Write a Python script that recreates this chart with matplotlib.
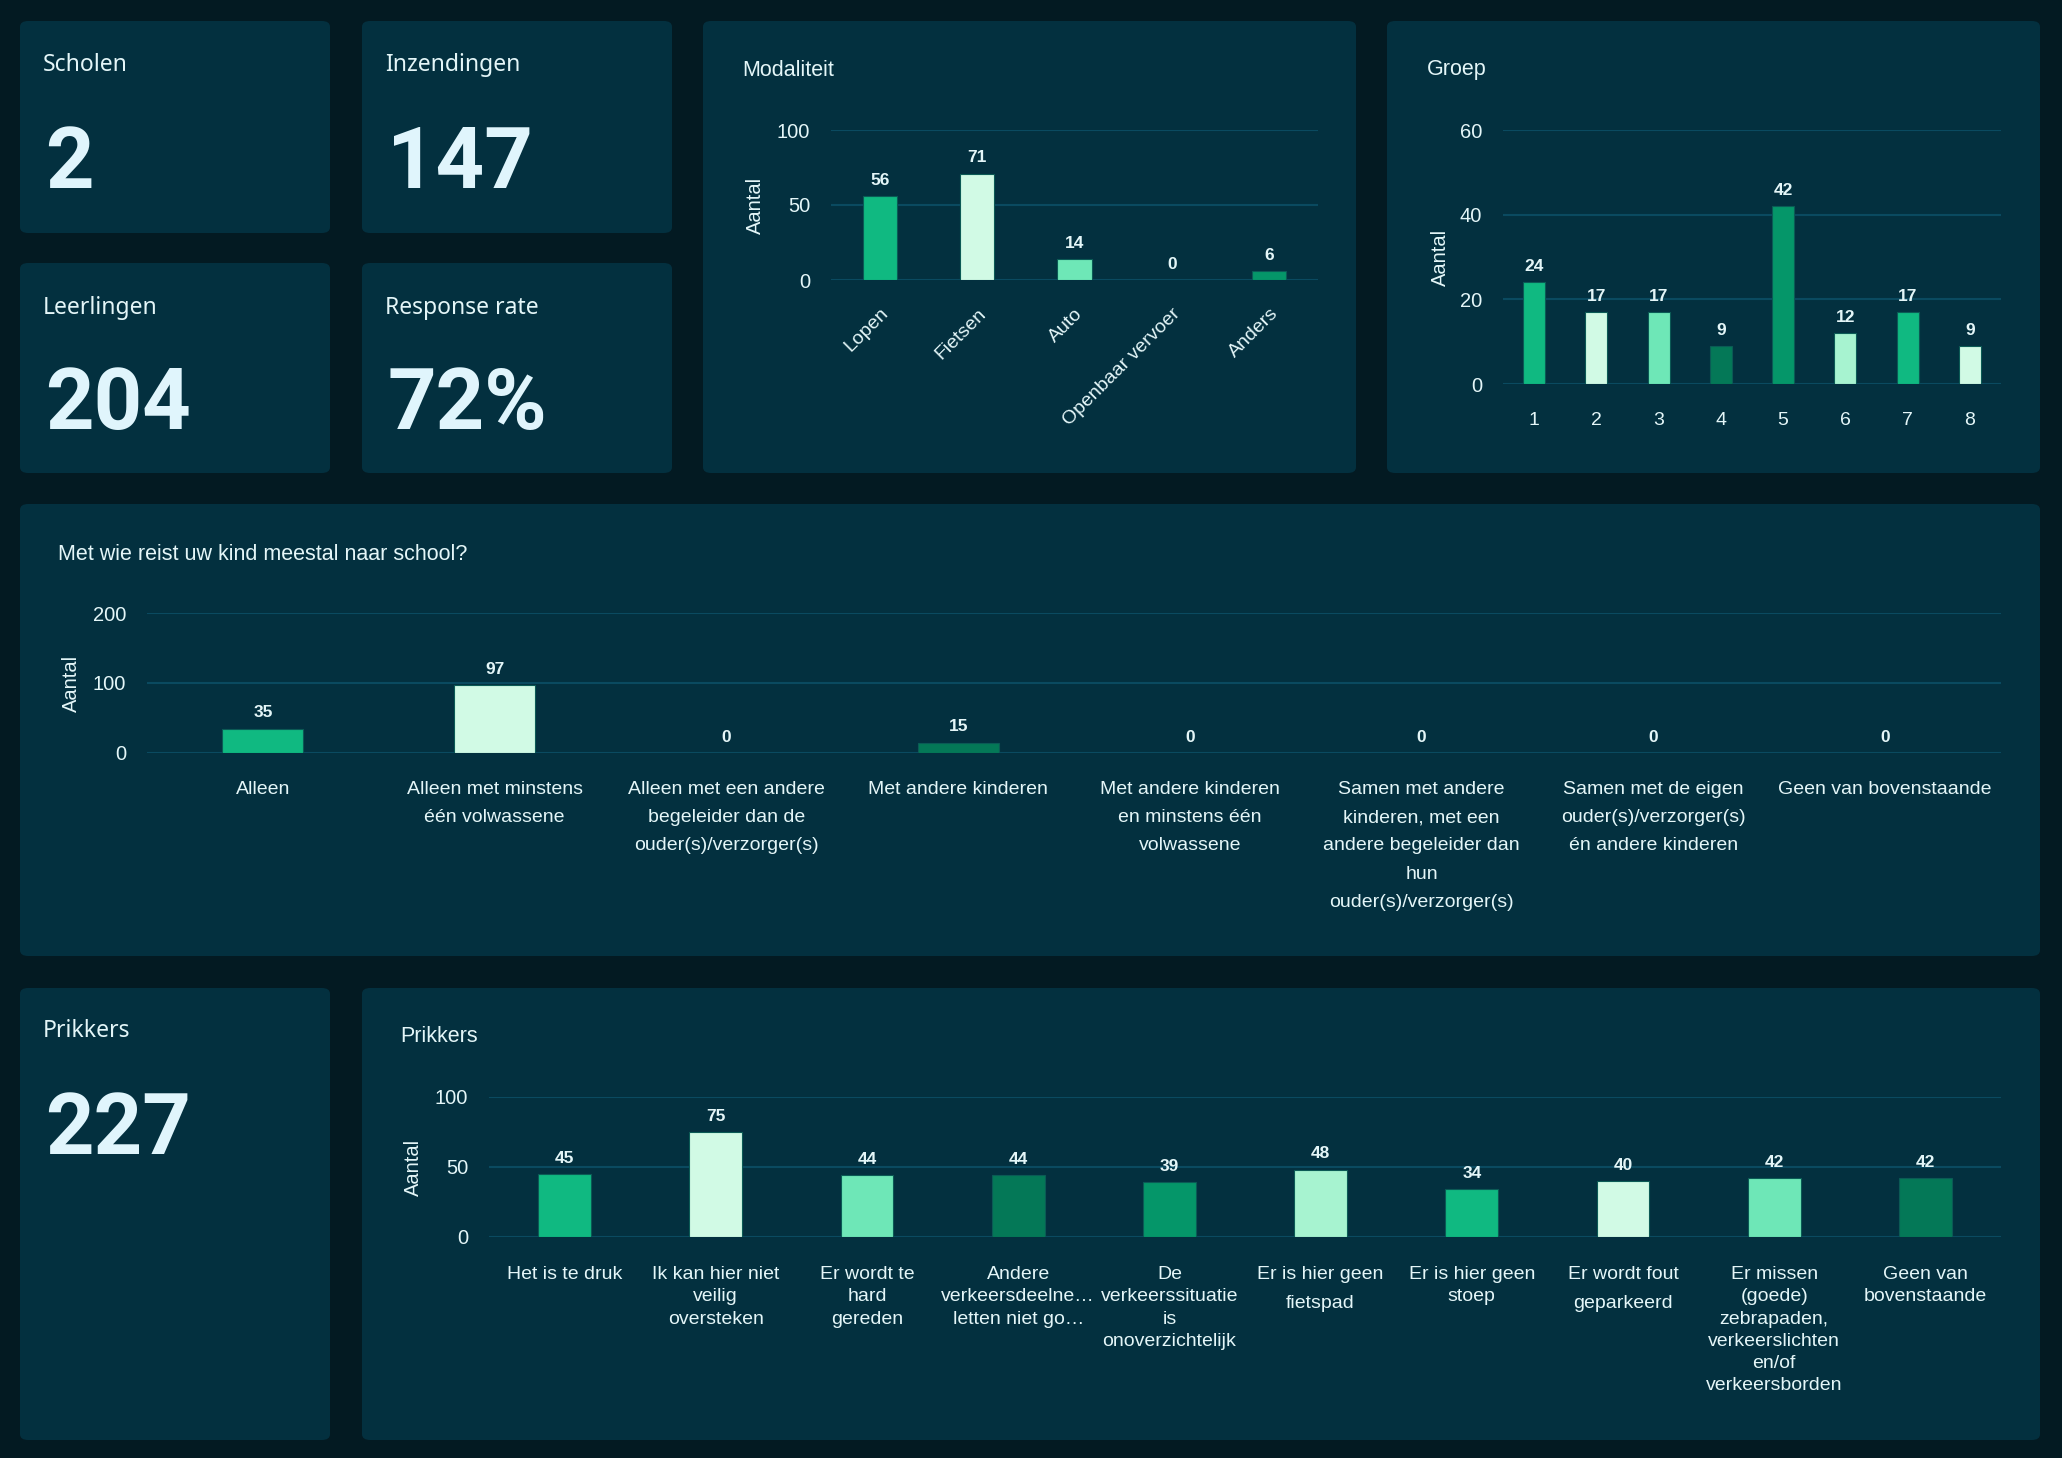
import numpy as np
import matplotlib
matplotlib.use("Agg")
import matplotlib.pyplot as plt
from matplotlib.patches import FancyBboxPatch

# ---- data ----
kpi_titles = ["Scholen", "Inzendingen", "Leerlingen", "Response rate", "Prikkers"]
kpi_values = ["2", "147", "204", "72%", "227"]

mod_cats = ["Lopen", "Fietsen", "Auto", "Openbaar vervoer", "Anders"]
mod_vals = [56, 71, 14, 0, 6]

groep_cats = ["1", "2", "3", "4", "5", "6", "7", "8"]
groep_vals = [24, 17, 17, 9, 42, 12, 17, 9]

reis_cats = ["Alleen", "Alleen met minstens\néén volwassene",
             "Alleen met een andere\nbegeleider dan de\nouder(s)/verzorger(s)",
             "Met andere kinderen",
             "Met andere kinderen\nen minstens één\nvolwassene",
             "Samen met andere\nkinderen, met een\nandere begeleider dan\nhun\nouder(s)/verzorger(s)",
             "Samen met de eigen\nouder(s)/verzorger(s)\nén andere kinderen",
             "Geen van bovenstaande"]
reis_vals = [35, 97, 0, 15, 0, 0, 0, 0]

prik_cats = ["Het is te druk", "Ik kan hier niet\nveilig\noversteken",
             "Er wordt te\nhard\ngereden",
             "Andere\nverkeersdeelne…\nletten niet go…",
             "De\nverkeerssituatie\nis\nonoverzichtelijk",
             "Er is hier geen\nfietspad", "Er is hier geen\nstoep",
             "Er wordt fout\ngeparkeerd",
             "Er missen\n(goede)\nzebrapaden,\nverkeerslichten\nen/of\nverkeersborden",
             "Geen van\nbovenstaande"]
prik_vals = [45, 75, 44, 44, 39, 48, 34, 40, 42, 42]
prik_spacing = [1.4, 1.4, 1.4, 1.4, 1.4, 1.88, 1.4, 1.88, 1.4, 1.4]

palette = ["#10b981", "#d1fae5", "#6ee7b7", "#047857", "#059669", "#a7f3d0"]

BG = "#031a22"
CARD = "#03303f"
GRID = "#0a4a60"
TXT = "#e4f6f8"
W, H = 2062, 1458

fig = plt.figure(figsize=(W / 100, H / 100), dpi=100, facecolor=BG)

def fx(x): return x / W
def fy(y): return 1 - y / H

def card(x0, y0, x1, y1):
    p = FancyBboxPatch((fx(x0), fy(y1)), fx(x1) - fx(x0), fy(y0) - fy(y1),
                       boxstyle="round,pad=0,rounding_size=0.004",
                       transform=fig.transFigure, facecolor=CARD, edgecolor="none",
                       zorder=-10)
    fig.patches.append(p)

# KPI cards
kpi_boxes = [(20, 21, 330, 233), (362, 21, 672, 233), (20, 263, 330, 473),
             (362, 263, 672, 473), (20, 988, 330, 1440)]
kpi_title_y = [65, 65, 308, 308, 1031]
kpi_val_y = [164, 164, 406, 406, 1131]
for i, b in enumerate(kpi_boxes):
    card(*b)
    fig.text(fx(b[0] + 23), fy(kpi_title_y[i]), kpi_titles[i], color=TXT,
             fontsize=16.5, family="Noto Sans", va="center", ha="left")
    fig.text(fx(b[0] + 25), fy(kpi_val_y[i]), kpi_values[i], color="#e0f5fc",
             fontsize=61, family=["Roboto", "DejaVu Sans"], fontweight="bold",
             va="center", ha="left")

# chart cards
card(703, 21, 1356, 473)
card(1387, 21, 2040, 473)
card(20, 504, 2040, 956)
card(362, 988, 2040, 1440)

fam = "Liberation Sans"

def bar_chart(box, cats, vals, ymax, yticks, title, title_xy, ylab_x,
              rot=False, spacings=None, lsp=1.3, xpad=17):
    x0, y0, x1, y1 = box
    ax = fig.add_axes([fx(x0), fy(y1), fx(x1) - fx(x0), fy(y0) - fy(y1)])
    ax.set_facecolor("none")
    x = np.arange(len(cats))
    cols = [palette[i % len(palette)] for i in range(len(cats))]
    ax.bar(x, vals, width=0.35, color=cols, edgecolor="#0b5a55", linewidth=0.8, zorder=3)
    for xi, v in zip(x, vals):
        ax.annotate(str(v), (xi, v), xytext=(0, 6), textcoords="offset points",
                    ha="center", va="bottom", color=TXT, fontsize=12.5,
                    fontweight="bold", family=fam)
    ax.set_xlim(-0.5, len(cats) - 0.5)
    ax.set_ylim(0, ymax)
    ax.set_yticks(yticks)
    ax.grid(axis="y", color=GRID, linewidth=1.5, zorder=0)
    ax.set_axisbelow(True)
    for s in ax.spines.values():
        s.set_visible(False)
    ax.tick_params(length=0, colors=TXT, labelsize=14.5, pad=15)
    ax.set_xticks(x)
    if rot:
        ax.set_xticklabels(cats, rotation=45, ha="right", rotation_mode="anchor",
                           family=fam, fontsize=14)
        ax.tick_params(axis="x", pad=18)
    else:
        ax.set_xticklabels(cats, family=fam, fontsize=14, va="top",
                           linespacing=lsp)
        ax.tick_params(axis="x", pad=xpad)
        if spacings:
            for t, s in zip(ax.get_xticklabels(), spacings):
                t.set_linespacing(s)
    for t in ax.get_yticklabels():
        t.set_family(fam)
    ax.set_ylabel("Aantal", color=TXT, fontsize=14.5, family=fam)
    ax.yaxis.set_label_coords((ylab_x + 10 - x0) / (x1 - x0), 0.5)
    fig.text(fx(title_xy[0]), fy(title_xy[1]), title, color=TXT, fontsize=15.5,
             family=fam, va="center", ha="left")
    return ax

bar_chart((831, 130, 1318, 280), mod_cats, mod_vals, 100, [0, 50, 100],
          "Modaliteit", (742, 70), 755, rot=True)
bar_chart((1503, 130, 2001, 384), groep_cats, groep_vals, 60, [0, 20, 40, 60],
          "Groep", (1427, 70), 1440, xpad=20)
bar_chart((147, 613, 2001, 753), reis_cats, reis_vals, 200, [0, 100, 200],
          "Met wie reist uw kind meestal naar school?", (58, 554), 71,
          lsp=1.87, xpad=20)
bar_chart((489, 1097, 2001, 1237), prik_cats, prik_vals, 100, [0, 50, 100],
          "Prikkers", (400, 1037), 413, spacings=prik_spacing, xpad=21)

fig.savefig("out.png", dpi=100, facecolor=BG)
